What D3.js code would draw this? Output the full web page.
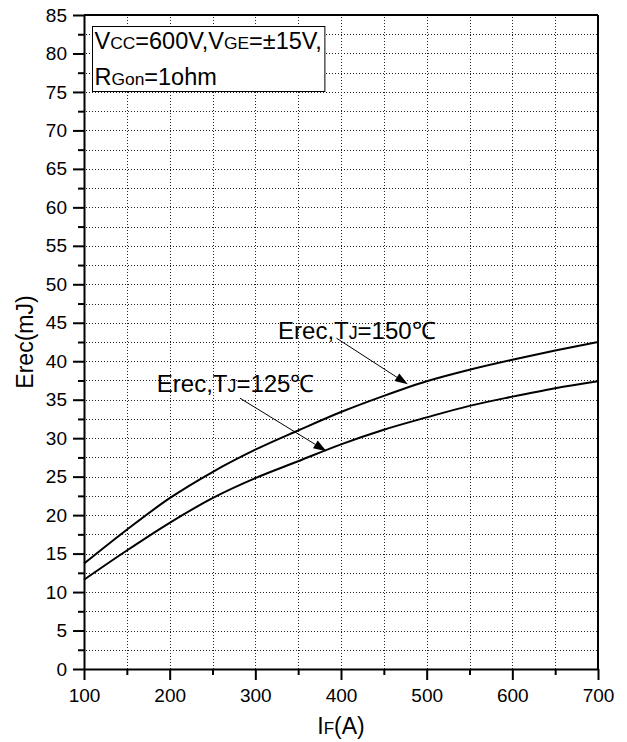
<!DOCTYPE html>
<html>
<head>
<meta charset="utf-8">
<script src="https://cdn.jsdelivr.net/npm/d3@7"></script>
<style>
  html, body { margin: 0; padding: 0; background: #fff; }
  svg { display: block; font-family: "Liberation Sans", Arial, sans-serif; }
</style>
</head>
<body>
<svg id="chart" width="627" height="742"></svg>
<script>
// Forward current IF (A)
const currents = [100, 150, 200, 250, 300, 350, 400, 450, 500, 550, 600, 650, 700];
// Reverse-recovery energy Erec (mJ) at two junction temperatures
const erec150 = [13.7, 18.1, 22.2, 25.6, 28.5, 31.0, 33.4, 35.5, 37.4, 38.9, 40.2, 41.4, 42.5];
const erec125 = [11.6, 15.4, 19.0, 22.2, 24.8, 27.0, 29.2, 31.1, 32.7, 34.2, 35.4, 36.5, 37.4];

const xTicks = [100, 200, 300, 400, 500, 600, 700];
const yTicks = d3.range(0, 86, 5);

const svg = d3.select("#chart");
const plotL = 84, plotR = 598, plotT = 15, plotB = 669;

const x = d3.scaleLinear().domain([100, 700]).range([plotL, plotR]);
const y = d3.scaleLinear().domain([0, 85]).range([plotB, plotT]);

// dotted grid, one row/column of dots per minor step
const gridX = d3.range(150, 700, 50);
const gridY = d3.range(2.5, 85, 2.5);
const dots = [];
gridX.forEach(v => {
  const px = Math.round(x(v));
  for (let py = plotT + 2; py < plotB; py += 3) dots.push([px, py]);
});
gridY.forEach(v => {
  const py = Math.round(y(v));
  for (let px = plotL + 2; px < plotR; px += 3) dots.push([px, py]);
});
svg.append("g").attr("fill", "#222").attr("shape-rendering", "crispEdges")
  .selectAll("rect").data(dots).join("rect")
  .attr("x", d => d[0]).attr("y", d => d[1]).attr("width", 1).attr("height", 1);

// condition box
const box = svg.append("g");
const boxRect = box.append("rect").attr("x", 92.5).attr("y", 26.5).attr("height", 65)
  .attr("fill", "#fff").attr("stroke", "#000").attr("stroke-width", 1);
function richText(g, xPos, yPos, parts, size) {
  const t = g.append("text").attr("x", xPos).attr("y", yPos).attr("font-size", size).attr("fill", "#000");
  parts.forEach(p => t.append("tspan").attr("font-size", p[1] ? size * 0.74 : size).text(p[0]));
  return t;
}
const l1 = richText(box, 94.5, 48.5, [["V", 0], ["CC", 1], ["=600V,V", 0], ["GE", 1], ["=\u00b115V,", 0]], 23.5);
richText(box, 94.5, 85, [["R", 0], ["Gon", 1], ["=1ohm", 0]], 23.5);
boxRect.attr("width", l1.node().getBBox().width + 5);

// curves
const line = d3.line().x(d => x(d[0])).y(d => y(d[1])).curve(d3.curveMonotoneX);
[erec150, erec125].forEach(vals => {
  svg.append("path").datum(currents.map((c, i) => [c, vals[i]]))
    .attr("d", line).attr("fill", "none").attr("stroke", "#000").attr("stroke-width", 2);
});

// annotations with arrows
function arrow(x0, y0, x1, y1) {
  const g = svg.append("g");
  const px0 = x(x0), py0 = y(y0), px1 = x(x1), py1 = y(y1);
  const ang = Math.atan2(py1 - py0, px1 - px0);
  const L = 13, W = 4.5;
  const bx = px1 - L * Math.cos(ang), by = py1 - L * Math.sin(ang);
  g.append("line").attr("x1", px0).attr("y1", py0).attr("x2", bx).attr("y2", by)
    .attr("stroke", "#000").attr("stroke-width", 1);
  g.append("path").attr("d", `M${px1},${py1}L${bx + W * Math.sin(ang)},${by - W * Math.cos(ang)}L${bx - W * Math.sin(ang)},${by + W * Math.cos(ang)}Z`)
    .attr("fill", "#000");
}
richText(svg, x(326.5), y(42.9), [["Erec,T", 0], ["J", 1], ["=150\u2103", 0]], 24);
arrow(394.7, 43.0, 478, 37.0);
richText(svg, x(185), y(36.0), [["Erec,T", 0], ["J", 1], ["=125\u2103", 0]], 24);
arrow(282, 35.2, 383, 28.3);

// frame
svg.append("line").attr("x1", plotL).attr("x2", plotR).attr("y1", plotT).attr("y2", plotT)
  .attr("stroke", "#000").attr("stroke-width", 2);
svg.append("line").attr("x1", plotR).attr("x2", plotR).attr("y1", plotT).attr("y2", plotB)
  .attr("stroke", "#000").attr("stroke-width", 2);

// axes
function styleAxis(g) {
  g.select(".domain").attr("stroke-width", 2);
  g.selectAll(".tick line").attr("stroke-width", 2);
  g.selectAll("text").attr("font-size", 19).attr("fill", "#000")
    .attr("font-family", "'Liberation Sans', Arial, sans-serif");
}
svg.append("g").attr("transform", `translate(0,${plotB})`)
  .call(d3.axisBottom(x).tickValues(d3.range(150, 700, 100)).tickSize(6).tickFormat(""))
  .call(g => { g.select(".domain").remove(); g.selectAll(".tick line").attr("stroke-width", 2); });
svg.append("g").attr("transform", `translate(${plotL},0)`)
  .call(d3.axisLeft(y).tickValues(d3.range(2.5, 85, 5)).tickSize(6).tickFormat(""))
  .call(g => { g.select(".domain").remove(); g.selectAll(".tick line").attr("stroke-width", 2); });
svg.append("g").attr("transform", `translate(0,${plotB})`)
  .call(d3.axisBottom(x).tickValues(xTicks).tickSize(11).tickPadding(9).tickSizeOuter(0))
  .call(styleAxis);
svg.append("g").attr("transform", `translate(${plotL},0)`)
  .call(d3.axisLeft(y).tickValues(yTicks).tickSize(11).tickPadding(6).tickSizeOuter(0))
  .call(styleAxis);

// axis titles
const xt = svg.append("text").attr("x", (plotL + plotR) / 2).attr("y", 734)
  .attr("text-anchor", "middle").attr("font-size", 23);
xt.append("tspan").text("I");
xt.append("tspan").attr("font-size", 23 * 0.74).text("F");
xt.append("tspan").text("(A)");
svg.append("text").attr("transform", `translate(33,${(plotT + plotB) / 2}) rotate(-90)`)
  .attr("text-anchor", "middle").attr("font-size", 23).text("Erec(mJ)");
</script>
</body>
</html>
